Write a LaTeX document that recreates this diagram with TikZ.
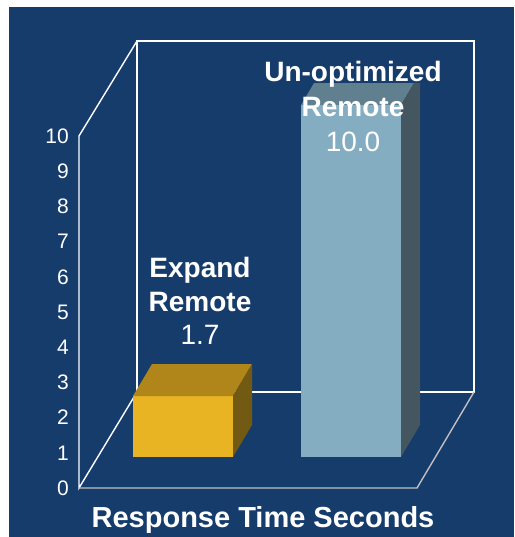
\documentclass[tikz,border=0pt]{standalone}
\usepackage{fontspec}
\setmainfont{Liberation Sans}
\usepackage{xcolor}
\usepackage{tikz}
\definecolor{chartbg}{RGB}{22,60,108}
\definecolor{floorgray}{RGB}{192,192,192}
\definecolor{goldfront}{RGB}{232,180,35}
\definecolor{goldtop}{RGB}{176,134,26}
\definecolor{goldside}{RGB}{115,90,18}
\definecolor{skyfront}{RGB}{133,173,194}
\definecolor{skytop}{RGB}{96,128,143}
\definecolor{skyside}{RGB}{68,86,95}
\newcommand{\cuboid}[7]{%
\fill[#5] (#1,#2) rectangle (#3,#4);
\fill[#6] (#1,#2) -- (#3,#2) -- (#3+19,#2-32) -- (#1+19,#2-32) -- cycle;
\fill[#7] (#3,#2) -- (#3+19,#2-32) -- (#3+19,#4-32) -- (#3,#4) -- cycle;
}
\tikzstyle{wall} = [draw=white, line width=1.4pt]
\tikzstyle{floorline} = [draw=floorgray, line width=1.4pt]
\tikzstyle{ticklabel} = [anchor=east, text=white, inner sep=0pt,
font=\fontsize{21}{21}\selectfont]
\tikzstyle{barlabel} = [anchor=base, text=white, inner sep=0pt,
font=\fontsize{28}{34}\selectfont]
\tikzstyle{axistitle} = [anchor=base, text=white, inner sep=0pt,
font=\bfseries\fontsize{29}{29}\selectfont]

\begin{document}
\begin{tikzpicture}[x=1pt, y=-1pt]
        \fill[white] (0,0) rectangle (514,537);
        \useasboundingbox (0,0) rectangle (514,537);
        \fill[chartbg] (9,7) rectangle (514,537);
        \draw[wall] (137,41) rectangle (474,392);
        \draw[wall] (137,41) -- (79,136) -- (79,488) -- (137,392);
        \draw[floorline] (79,488) -- (417,488) -- (474,392);
        \foreach \v in {0,...,10}
            \node[ticklabel] (tick\v) at (69,488-35.2*\v) {\v};
        \cuboid{133}{396}{233}{457}{goldfront}{goldtop}{goldside}
        \cuboid{301}{105}{401}{457}{skyfront}{skytop}{skyside}
        \node[barlabel] (expandA) at (200,277) {\textbf{Expand}};
        \node[barlabel] (expandB) at (200,311) {\textbf{Remote}};
        \node[barlabel] (expandC) at (200,344) {1.7};
        \node[barlabel, fill=chartbg, text depth=0pt, inner ysep=1pt] (unoptA) at (353,82) {\textbf{Un-optimized}};
        \node[barlabel] (unoptB) at (353,117) {\textbf{Remote}};
        \node[barlabel] (unoptC) at (353,152) {10.0};
        \node[axistitle] (title) at (263,527) {Response Time Seconds};
    \end{tikzpicture}
\end{document}
